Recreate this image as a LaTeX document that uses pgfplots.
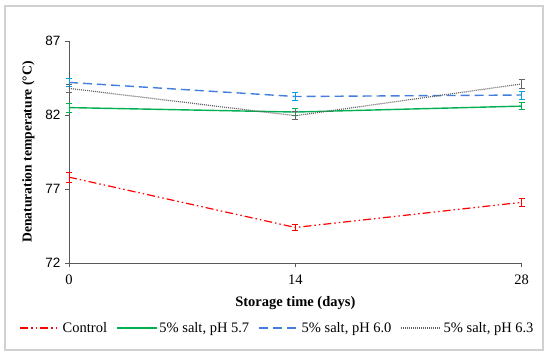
\documentclass[border=0pt]{standalone}
\usepackage{pgfplots}
\pgfplotsset{compat=1.18}
\usepackage{fontspec}
\setmainfont{Liberation Serif}
\newfontfamily\arialfont{Liberation Sans}
\definecolor{cred}{RGB}{255,0,0}
\definecolor{cgreen}{RGB}{0,176,80}
\definecolor{cblue}{RGB}{68,126,220}
\definecolor{ccyan}{RGB}{0,160,230}
\definecolor{cgray}{RGB}{100,100,100}
\definecolor{caxis}{RGB}{89,89,89}
\begin{document}
\begin{tikzpicture}[x=1pt,y=1pt]
\path[use as bounding box] (0,0) rectangle (550,357);
\draw[black!18, line width=1.2pt] (5,7) rectangle (543,351);
\begin{axis}[
  at={(69pt,94pt)}, anchor=south west,
  scale only axis, width=452.7pt, height=222pt,
  xmin=0, xmax=28, ymin=72, ymax=87,
  xtick={0,14,28}, ytick={72,77,82,87},
  axis x line=bottom, axis y line=left,
  axis line style={caxis, line width=0.8pt, -},
  tick style={caxis, line width=0.8pt},
  tick align=outside, major tick length=4pt,
  clip=false,
  font=\fontsize{14.5}{17}\selectfont,
  xticklabel style={font=\fontsize{14.5}{17}\selectfont, yshift=-4pt},
  yticklabel style={font=\arialfont\fontsize{13.5}{16}\selectfont, xshift=-1pt},
  /pgf/number format/assume math mode=true,
  xlabel={\textbf{Storage time (days)}},
  ylabel={\textbf{Denaturation temperature (°C)}},
  xlabel style={yshift=-5pt},
  ylabel style={font=\fontsize{13.6}{16}\selectfont, yshift=4pt},
  legend columns=4,
  legend style={draw=none, at={(0.4606,-0.293)}, anchor=center,
    font=\fontsize{14.5}{17}\selectfont, /tikz/every even column/.append style={column sep=7pt},
    inner sep=0pt},
  legend image code/.code={\draw[#1] (0pt,0pt) -- (40pt,0pt);},
  error bars/y dir=both, error bars/y explicit,
  error bars/error mark options={rotate=90, mark size=3pt, line width=0.7pt},
]
\addplot[cred, line width=1.2pt, dash pattern=on 8pt off 3pt on 1.5pt off 3pt on 1.5pt off 3pt,
  error bars/error bar style={cred, line width=0.7pt, solid}]
  coordinates {(0,77.8) +- (0,0.35) (14,74.4) +- (0,0.22) (28,76.1) +- (0,0.28)};
\addlegendentry{Control}
\addplot[cgreen, line width=1.4pt,
  error bars/error bar style={cgreen, line width=0.7pt, solid}]
  coordinates {(0,82.5) +- (0,0.32) (14,82.2) +- (0,0.24) (28,82.6) +- (0,0.25)};
\addlegendentry{5\% salt, pH 5.7}
\addplot[cblue, line width=1.4pt, dash pattern=on 9pt off 5pt,
  error bars/error bar style={ccyan, line width=0.7pt, solid}]
  coordinates {(0,84.2) +- (0,0.27) (14,83.25) +- (0,0.27) (28,83.35) +- (0,0.27)};
\addlegendentry{5\% salt, pH 6.0}
\addplot[cgray, line width=1.2pt, dash pattern=on 1pt off 1pt,
  error bars/error bar style={cgray, line width=0.7pt, solid}]
  coordinates {(0,83.8) +- (0,0.25) (14,81.95) +- (0,0.27) (28,84.1) +- (0,0.28)};
\addlegendentry{5\% salt, pH 6.3}
\end{axis}
\end{tikzpicture}
\end{document}
